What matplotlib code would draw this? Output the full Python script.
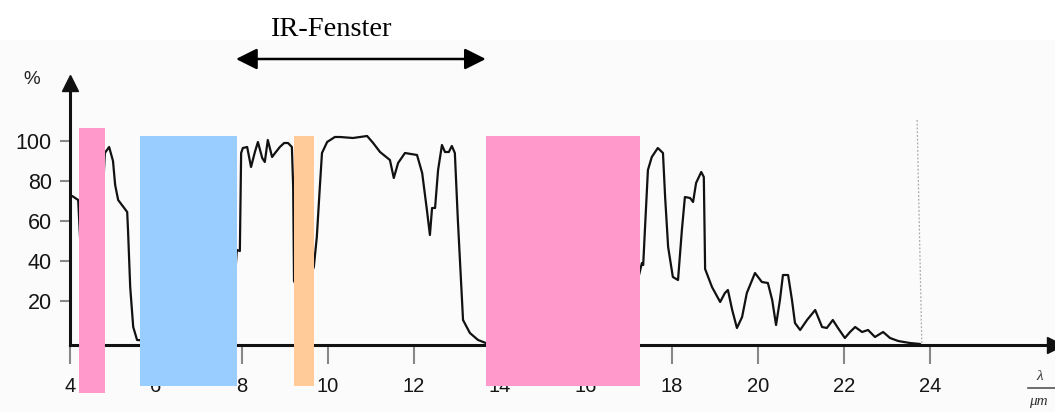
import matplotlib
matplotlib.use("Agg")
import matplotlib.pyplot as plt
from matplotlib.patches import Rectangle

# ---- data ----
wavelength = [4.05, 4.19, 4.35, 4.60, 4.81, 4.91, 5.00, 5.05, 5.12, 5.33, 5.35, 5.40, 5.47, 5.56,
              6.00, 7.50, 7.80, 7.88, 7.95, 7.98, 8.02, 8.12, 8.21, 8.30, 8.37, 8.47, 8.53, 8.60,
              8.70, 8.77, 8.88, 8.98, 9.07, 9.16, 9.19, 9.21, 9.40, 9.67, 9.74, 9.81, 9.86, 9.98,
              10.16, 10.28, 10.58, 10.91, 11.05, 11.21, 11.44, 11.53, 11.63, 11.79, 12.07, 12.19,
              12.30, 12.37, 12.42, 12.49, 12.56, 12.65, 12.72, 12.81, 12.88, 12.95, 13.02, 13.12,
              13.14, 13.30, 13.49, 13.67, 15.50, 17.20, 17.30, 17.33, 17.37, 17.44, 17.53, 17.67,
              17.79, 17.84, 17.91, 18.02, 18.14, 18.23, 18.30, 18.42, 18.49, 18.56, 18.68, 18.74,
              18.77, 18.93, 19.12, 19.23, 19.30, 19.40, 19.51, 19.63, 19.74, 19.93, 20.09, 20.23,
              20.33, 20.42, 20.51, 20.58, 20.70, 20.79, 20.86, 20.98, 21.14, 21.33, 21.49, 21.60,
              21.74, 21.86, 22.02, 22.14, 22.26, 22.42, 22.56, 22.72, 22.91, 23.07, 23.26, 23.53,
              23.77]
transmission = [72.5, 70.5, 2, 2, 94, 97, 90, 78, 70.5, 64.5, 55, 27, 7, 0.5,
                0, 0, 20, 45.5, 45, 94, 96.5, 97, 87, 94.5, 99.5, 91.5, 89.5, 100.5,
                92, 94, 97, 99, 99, 97, 77, 30, 22, 37, 52, 77, 94, 99.5,
                102, 102, 101.5, 102.5, 99, 94.5, 90.5, 81.5, 89, 94, 93, 84,
                65.5, 53, 66.5, 66.5, 85.5, 98, 94.5, 94.5, 97.5, 94, 60.5, 19,
                10.5, 4, 0.5, -1, -1, 30, 39, 38, 55.5, 85.5, 92, 96.5,
                94, 72, 47, 32, 30.5, 55.5, 72, 71.5, 69.5, 79, 84.5, 82,
                36, 27, 19.5, 24, 25.5, 15.5, 6.5, 12, 24, 34, 29.5, 29,
                20.5, 8, 20.5, 33, 33, 20.5, 9, 5.5, 10.5, 15.5, 7, 6.5,
                10.5, 6.5, 1.5, 4.5, 7, 4.5, 5.5, 2, 4.5, 1.5, 0, -1,
                -1.5]

x_ticks = [4, 6, 8, 10, 12, 14, 16, 18, 20, 22, 24]
y_ticks = [20, 40, 60, 80, 100]

# overlay bands: (start, end, bottom, top, colour)
band_start = [4.21, 5.63, 9.21, 13.67]
band_end = [4.81, 7.88, 9.67, 17.26]
band_bottom = [-26, -22.5, -22.5, -22.5]
band_top = [106.5, 102.5, 102.5, 102.5]
band_colors = ["#FF99CC", "#99CCFF", "#FFCC99", "#FF99CC"]

window_start, window_end = 7.86, 13.67

W, H = 1055, 412
fig = plt.figure(figsize=(W / 100, H / 100), dpi=100, facecolor="white")
fig.patches.append(Rectangle((0, 0), 1, (H - 40) / H, transform=fig.transFigure,
                             facecolor="#FBFBFB", edgecolor="none", zorder=-10))

xmin, xmax, ymin, ymax = 4.0, 26.9, -2, 129
ax = fig.add_axes([70 / W, 67 / H, (xmax - xmin) * 43 / W, 262 / H])
ax.set_facecolor("none")
ax.set_xlim(xmin, xmax)
ax.set_ylim(ymin, ymax)

ax.plot(wavelength, transmission, color="#111111", lw=1.6, zorder=3,
        solid_joinstyle="round", solid_capstyle="round")

for s, e, b, t, c in zip(band_start, band_end, band_bottom, band_top, band_colors):
    ax.add_patch(Rectangle((s, b), e - s, t - b, facecolor=c, edgecolor="none",
                           zorder=6, clip_on=False))

# faint dotted vertical line near 24
ax.plot([23.70, 23.81], [110.5, -2], color="#AAAAAA", lw=0.9, ls=(0, (1.5, 1.5)),
        zorder=2, clip_on=False)

for sp in ["top", "right"]:
    ax.spines[sp].set_visible(False)
for sp in ["left", "bottom"]:
    ax.spines[sp].set_linewidth(2.2)
    ax.spines[sp].set_color("#111111")

ax.plot(0, 1, "^", color="#111111", ms=11, transform=ax.transAxes, clip_on=False, zorder=4)
ax.plot(1, 0, ">", color="#111111", ms=11, transform=ax.transAxes, clip_on=False, zorder=4)

ax.set_xticks(x_ticks)
ax.set_xticklabels([str(v) for v in x_ticks])
ax.set_yticks(y_ticks)
ax.set_yticklabels([str(v) for v in y_ticks])
ax.tick_params(axis="x", direction="out", length=14, width=1.5, color="#888888",
               pad=9, labelsize=14.5, labelcolor="#151515")
ax.tick_params(axis="y", direction="out", length=7, width=1.5, color="#888888",
               pad=6, labelsize=15.5, labelcolor="#151515")
for lab in ax.get_xticklabels() + ax.get_yticklabels():
    lab.set_family("Liberation Sans")

# IR-Fenster arrow and label
ax.annotate("", xy=(window_start, 141), xytext=(window_end, 141),
            arrowprops=dict(arrowstyle="<|-|>", color="black", lw=1.8, mutation_scale=32,
                            shrinkA=0, shrinkB=0),
            annotation_clip=False)
ax.text((window_start + window_end) / 2 - 0.7, 155.5, "IR-Fenster", ha="center", va="center",
        fontsize=20.5, family="Liberation Serif", color="black", clip_on=False)

fig.text(32 / W, 1 - 80 / H, "%", ha="center", va="center", fontsize=13.5,
         family="Liberation Sans", color="#222222")
fig.text(1040 / W, 1 - 377 / H, "λ", ha="center", va="center", fontsize=11,
         style="italic", family="Liberation Serif", color="#333333")
fig.add_artist(plt.Line2D([1028 / W, 1.0], [1 - 388 / H, 1 - 388 / H],
                          transform=fig.transFigure, color="#555555", lw=1.2))
fig.text(1029 / W, 1 - 402 / H, "μm", ha="left", va="center", fontsize=11,
         style="italic", family="Liberation Serif", color="#333333")

fig.savefig("out.png", dpi=100, facecolor=fig.get_facecolor())
